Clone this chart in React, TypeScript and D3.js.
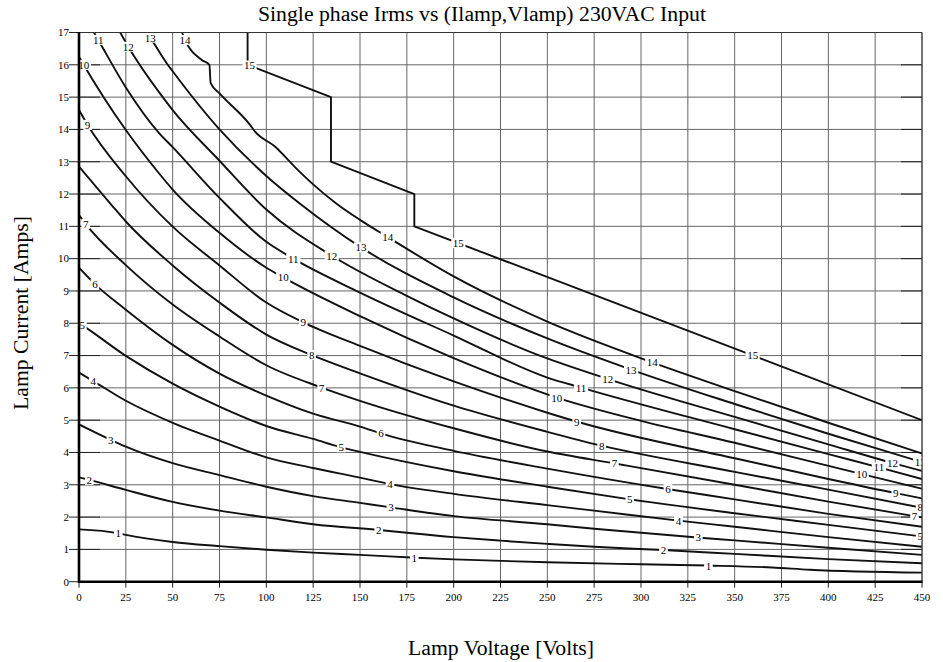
import React from 'react';
import * as d3 from 'd3';

type P = [number, number];

const levels = [1, 2, 3, 4, 5, 6, 7, 8, 9, 10, 11, 12, 13, 14, 15];

const c1: P[] = [[0,1.62],[21,1.5],[25,1.45],[50,1.23],[75,1.1],[100,0.99],[125,0.9],[150,0.83],[180,0.74],[200,0.69],[250,0.6],[300,0.54],[336,0.5],[370,0.44],[390,0.37],[450,0.28]];
const c2: P[] = [[0,3.23],[5.5,3.15],[25,2.84],[50,2.47],[75,2.2],[100,1.99],[125,1.78],[160,1.6],[200,1.38],[225,1.27],[250,1.17],[275,1.08],[312,0.98],[350,0.86],[400,0.7],[450,0.57]];
const c3: P[] = [[0,4.87],[17,4.39],[25,4.18],[50,3.67],[75,3.3],[100,2.94],[125,2.65],[150,2.44],[166.5,2.3],[200,2.03],[250,1.78],[275,1.64],[330,1.37],[350,1.28],[400,1.05],[450,0.83]];
const c4: P[] = [[0,6.47],[7.6,6.21],[25,5.6],[50,4.92],[75,4.37],[100,3.85],[125,3.52],[150,3.22],[166,3.02],[200,2.72],[250,2.37],[275,2.2],[320,1.89],[350,1.7],[400,1.38],[450,1.08]];
const c5: P[] = [[0,8.0],[1.4,7.95],[25,6.99],[50,6.13],[75,5.42],[100,4.82],[125,4.42],[140,4.16],[150,4.02],[200,3.42],[250,2.94],[294,2.55],[350,2.12],[400,1.76],[450,1.4]];
const c6: P[] = [[0,9.72],[8.5,9.21],[25,8.42],[50,7.33],[75,6.44],[100,5.76],[125,5.2],[150,4.8],[161,4.59],[200,4.05],[250,3.5],[314,2.87],[350,2.55],[400,2.1],[450,1.7]];
const c7: P[] = [[0,11.35],[3.2,11.1],[25,9.8],[50,8.58],[75,7.59],[100,6.7],[129.5,6.01],[150,5.6],[200,4.75],[250,4.03],[286,3.66],[350,3.0],[400,2.48],[450,1.99]];
const c8: P[] = [[0,12.85],[17.4,11.66],[25,11.15],[50,9.79],[75,8.64],[100,7.65],[124,7.02],[150,6.45],[200,5.45],[250,4.64],[279,4.21],[350,3.4],[400,2.85],[450,2.29]];
const c9: P[] = [[0,14.6],[4.6,14.14],[25,12.55],[50,10.99],[75,9.79],[100,8.64],[120,8.02],[150,7.3],[200,6.2],[250,5.23],[266,4.95],[350,3.82],[400,3.18],[436,2.74],[450,2.58]];
const c10: P[] = [[0,16.25],[2,16.05],[25,13.98],[43,12.62],[50,12.14],[75,10.8],[100,9.72],[109,9.42],[150,8.22],[200,6.92],[255,5.7],[300,4.98],[350,4.3],[418,3.33],[450,2.88]];
const c11: P[] = [[8,17],[10.3,16.77],[25,15.3],[43,13.87],[50,13.45],[75,11.88],[100,10.52],[114.4,10.0],[150,8.95],[200,7.62],[250,6.32],[268,6.01],[350,4.72],[400,3.95],[427,3.54],[450,3.18]];
const c12: P[] = [[22,17],[26.3,16.56],[43,15.13],[50,14.6],[75,13.03],[100,11.52],[135,10.09],[175,8.85],[200,8.15],[250,6.91],[282,6.28],[350,5.1],[400,4.25],[434,3.68],[450,3.43]];
const c13: P[] = [[36,17],[38,16.84],[46.8,16.05],[50,15.8],[75,14.0],[100,12.56],[118,11.7],[150.5,10.35],[200,8.8],[250,7.53],[295,6.56],[350,5.5],[400,4.58],[450,3.7]];
const c14: P[] = [[55,17],[56.6,16.77],[65.5,16.15],[69.6,16.0],[70.3,15.43],[74.9,15.12],[91.3,14.14],[94,13.93],[104.6,13.47],[115,12.85],[125,12.3],[137.5,11.7],[150,11.2],[165,10.66],[200,9.45],[250,8.05],[306,6.79],[350,5.9],[400,4.92],[450,3.97]];
const c15: P[] = [[90,17],[90,16.0],[134.5,15.0],[134.5,13.0],[179,12.0],[179,11.0],[450,5.0]];

const contours: P[][] = [c1, c2, c3, c4, c5, c6, c7, c8, c9, c10, c11, c12, c13, c14, c15];

const labelV: number[][] = [
  [21, 179, 336],
  [5.5, 160, 312],
  [17, 166.5, 330.6],
  [7.6, 166, 320],
  [1.8, 140, 294, 449],
  [8.5, 161.2, 314.4],
  [3.6, 129.5, 285.8, 446],
  [124.2, 279, 449],
  [4.6, 119.7, 265.7, 436],
  [2.6, 109, 255, 417.8],
  [10.3, 114.4, 268, 427],
  [26.3, 134.9, 282.2, 434.2],
  [38, 150.5, 294.7, 449],
  [56.6, 164.8, 306],
  [91, 202.5, 359.6],
];

const xTicks = d3.range(0, 451, 25);
const yTicks = d3.range(0, 18, 1);

const title = 'Single phase Irms vs (Ilamp,Vlamp) 230VAC Input';
const xLabel = 'Lamp Voltage [Volts]';
const yLabel = 'Lamp Current [Amps]';

function interp(pts: P[], v: number): number {
  for (let i = 0; i < pts.length - 1; i++) {
    const a = pts[i], b = pts[i + 1];
    if (b[0] === a[0]) continue;
    if (v >= a[0] && v <= b[0]) {
      return a[1] + (b[1] - a[1]) * (v - a[0]) / (b[0] - a[0]);
    }
  }
  return pts[pts.length - 1][1];
}

export default function App() {
  const W = 943, H = 662;
  const x = d3.scaleLinear().domain([0, 450]).range([79, 922]);
  const y = d3.scaleLinear().domain([0, 17]).range([581.7, 32.5]);
  const smooth = d3.line<P>().x(d => x(d[0])).y(d => y(d[1])).curve(d3.curveMonotoneX);
  const straight = d3.line<P>().x(d => x(d[0])).y(d => y(d[1])).curve(d3.curveLinear);
  const serif = '"Liberation Serif", "Times New Roman", serif';
  const x0 = x(0), x1 = x(450), y0 = y(0), y1 = y(17);

  return (
    <svg width={W} height={H} style={{ position: 'absolute', left: 0, top: 0, background: '#fff' }}>
      <defs>
        <clipPath id="plotClip">
          <rect x={x0} y={y1} width={x1 - x0} height={y0 - y1} />
        </clipPath>
      </defs>
      <rect x={0} y={0} width={W} height={H} fill="#fff" />
      {/* grid */}
      <g stroke="#666" strokeWidth={1}>
        {xTicks.map(t => (
          <line key={'gx' + t} x1={x(t)} x2={x(t)} y1={y1} y2={y0} />
        ))}
        {yTicks.map(t => (
          <line key={'gy' + t} x1={x0} x2={x1} y1={y(t)} y2={y(t)} />
        ))}
      </g>
      {/* ticks */}
      <g stroke="#222" strokeWidth={1}>
        {yTicks.map(t => (
          <line key={'tl' + t} x1={x0 - 10} x2={x0 + 21} y1={y(t)} y2={y(t)} />
        ))}
        {yTicks.map(t => (
          <line key={'tr' + t} x1={x1 - 21} x2={x1} y1={y(t)} y2={y(t)} />
        ))}
        {xTicks.map(t => (
          <line key={'tb' + t} x1={x(t)} x2={x(t)} y1={y0} y2={y0 + 6} />
        ))}
      </g>
      {/* contours */}
      <g clipPath="url(#plotClip)" fill="none" stroke="#111" strokeWidth={1.9} strokeLinejoin="round">
        {contours.map((c, i) => (
          <path key={'c' + i} d={(i === 14 ? straight(c) : smooth(c)) || ''} />
        ))}
      </g>
      {/* contour labels */}
      <g clipPath="url(#plotClip)" fontFamily={serif} fontSize={11}>
        {contours.map((c, i) =>
          labelV[i].map((v, j) => {
            const txt = String(levels[i]);
            const px = x(v), py = y(interp(c, v));
            const w = txt.length * 5.6 + 3;
            return (
              <g key={'l' + i + '_' + j}>
                <rect x={px - w / 2} y={py - 5} width={w} height={10} fill="#fff" />
                <text x={px} y={py} dy="0.36em" textAnchor="middle" fill="#000">{txt}</text>
              </g>
            );
          })
        )}
      </g>
      {/* frame */}
      <line x1={x0} x2={x1} y1={y1} y2={y1} stroke="#333" strokeWidth={1} />
      <line x1={x1} x2={x1} y1={y1} y2={y0} stroke="#333" strokeWidth={1} />
      <line x1={x0} x2={x0} y1={y1 - 0.5} y2={y0 + 1.2} stroke="#000" strokeWidth={2.6} />
      <line x1={x0 - 1} x2={x1 + 0.5} y1={y0} y2={y0} stroke="#000" strokeWidth={2.6} />
      {/* tick labels */}
      <g fontFamily={serif} fontSize={11} fill="#000">
        {xTicks.map(t => (
          <text key={'xl' + t} x={x(t)} y={601} textAnchor="middle">{t}</text>
        ))}
        {yTicks.map(t => (
          <text key={'yl' + t} x={x0 - 10} y={y(t)} dy="0.35em" textAnchor="end">{t}</text>
        ))}
      </g>
      {/* titles */}
      <text x={482} y={21} textAnchor="middle" fontFamily={serif} fontSize={20} fill="#000"
        textLength={448} lengthAdjust="spacingAndGlyphs">{title}</text>
      <text x={501} y={655} textAnchor="middle" fontFamily={serif} fontSize={20} fill="#000"
        textLength={186} lengthAdjust="spacingAndGlyphs">{xLabel}</text>
      <text transform="translate(28,313) rotate(-90)" textAnchor="middle" fontFamily={serif} fontSize={20} fill="#000"
        textLength={194} lengthAdjust="spacingAndGlyphs">{yLabel}</text>
    </svg>
  );
}
